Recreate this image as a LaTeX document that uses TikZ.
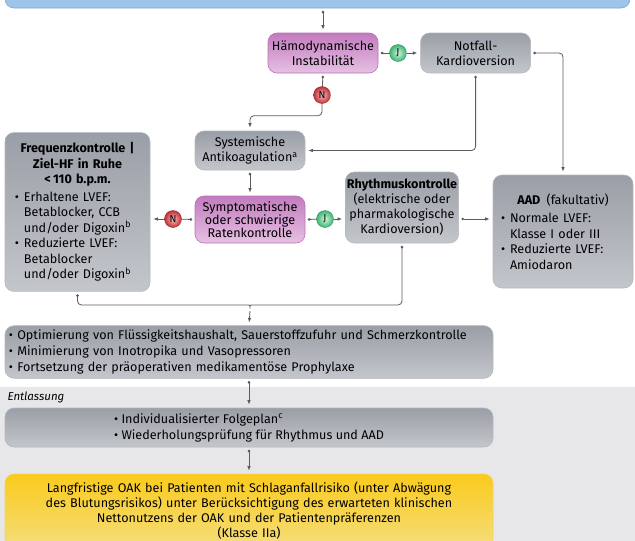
\documentclass[tikz,border=0pt]{standalone}
\usepackage{fontspec}
\setmainfont{Fira Sans}
\usetikzlibrary{positioning,arrows.meta}

\definecolor{graytop}{HTML}{9A9EA6}
\definecolor{graybot}{HTML}{C3C6CB}
\definecolor{grayline}{HTML}{B4B7BC}
\definecolor{purptop}{HTML}{C27BBE}
\definecolor{purpbot}{HTML}{E6C0E3}
\definecolor{purpline}{HTML}{B872B4}
\definecolor{bluetop}{HTML}{A9CBEC}
\definecolor{bluebot}{HTML}{9DC3E9}
\definecolor{blueline}{HTML}{7EA8DA}
\definecolor{yeltop}{HTML}{FACA1C}
\definecolor{yelbot}{HTML}{F5DE7C}
\definecolor{yelline}{HTML}{F3D45A}
\definecolor{bandgray}{HTML}{E7E7E9}
\definecolor{linkgray}{HTML}{5A5B5E}
\definecolor{jin}{HTML}{D2F4DF}
\definecolor{jout}{HTML}{3DB573}
\definecolor{nin}{HTML}{F6C0C0}
\definecolor{nout}{HTML}{C02F36}

\newcommand{\bitem}[1]{\par\hangindent=9pt\hangafter=1\noindent\makebox[9pt][l]{\textbullet}#1\par}

\begin{document}
\begin{tikzpicture}[x=1pt,y=-1pt]
  \tikzset{
    box/.style={rectangle,rounded corners=9pt,line width=0.6pt,inner sep=1.5pt,
      align=center,font=\fontsize{12.6}{15}\selectfont},
    graybox/.style={box,top color=graytop,bottom color=graybot,draw=grayline},
    purplebox/.style={box,top color=purptop,bottom color=purpbot,draw=purpline},
    yesnode/.style={circle,inner sep=0pt,minimum size=17pt,shading=radial,
      inner color=jin,outer color=jout,draw=jout!85!black,line width=0.4pt,
      font=\fontsize{10}{10}\selectfont},
    nonode/.style={yesnode,inner color=nin,outer color=nout,draw=nout!85!black},
    link/.style={draw=linkgray,line width=0.8pt,rounded corners=4pt,
      shorten <=2.5pt,shorten >=3pt,
      arrows={Circle[length=2.6pt]-Latex[length=4.5pt,width=3.6pt]}},
    linkdot/.style={link,arrows={Circle[length=2.6pt]-},shorten >=0pt},
    linkarrow/.style={link,arrows={-Latex[length=4.5pt,width=3.6pt]},shorten <=0pt},
  }
  \useasboundingbox (0,0) rectangle (635,541);
  \fill[bandgray] (0,387) rectangle (635,545);

  % top of the chart
  \node[box,top color=bluetop,bottom color=bluebot,draw=blueline,
    minimum width=625pt,minimum height=46pt] (blue) at (317.5,-15) {};
  \node[purplebox,minimum width=110pt,minimum height=40pt] (ham) at (323,53)
    {Hämodynamische\\Instabilität};
  \node[graybox,minimum width=110pt,minimum height=40pt] (notfall) [right=42pt of ham]
    {Notfall-\\Kardioversion};
  \node[yesnode] (j1) at (398,53) {J};
  \node[nonode] (n1) at (322,95) {N};

  % middle row
  \node[graybox,minimum width=110pt,minimum height=39pt] (sys) at (250,150.5)
    {Systemische\\Antikoagulation\textsuperscript{a}};
  \node[purplebox,minimum width=110pt,minimum height=47pt,
    font=\fontsize{12.6}{13}\selectfont] (sym) at (250,219.5)
    {Symptomatische\\oder schwierige\\Ratenkontrolle};
  \node[nonode] (n2) at (173,219) {N};
  \node[yesnode] (j2) at (325,219) {J};
  \node[graybox,minimum width=110pt,minimum height=71pt] (rhy) at (402,207.5)
    {\textbf{Rhythmuskontrolle}\\(elektrische oder\\pharmakologische\\Kardioversion)};
  \node[graybox,text width=125pt,inner sep=10pt,minimum height=152pt,
    font=\fontsize{12.6}{15.5}\selectfont] (freq) at (77.5,212)
    {{\centering\bfseries Frequenzkontrolle |\\Ziel-HF in Ruhe\\<\,110 b.p.m.\par}
     \vspace{2pt}\raggedright
     \bitem{Erhaltene LVEF:\newline Betablocker, CCB\newline und/oder Digoxin\textsuperscript{b}}
     \bitem{Reduzierte LVEF:\newline Betablocker\newline und/oder Digoxin\textsuperscript{b}}};
  \node[graybox,text width=124pt,inner sep=8pt,minimum height=113pt,
    font=\fontsize{12.6}{15.5}\selectfont] (aad) at (563,231.5)
    {{\centering\textbf{AAD}\enspace(fakultativ)\par}
     \vspace{3pt}\raggedright
     \bitem{Normale LVEF:\newline Klasse I oder III}
     \bitem{Reduzierte LVEF:\newline Amiodaron}};

  % lower part
  \node[graybox,text width=480pt,inner sep=4pt,minimum height=52pt,align=left,
    font=\fontsize{12.6}{16}\selectfont] (opt) at (249,352)
    {\textbullet\ Optimierung von Flüssigkeitshaushalt, Sauerstoffzufuhr und Schmerzkontrolle\\
     \textbullet\ Minimierung von Inotropika und Vasopressoren\\
     \textbullet\ Fortsetzung der präoperativen medikamentöse Prophylaxe};
  \node[font=\fontsize{11.5}{11.5}\selectfont\itshape,anchor=west] (discharge) at (4,397) {Entlassung};
  \node[graybox,minimum width=488pt,minimum height=39pt,align=left,
    font=\fontsize{12.6}{16}\selectfont] (ind) at (249,427.5)
    {\textbullet\ Individualisierter Folgeplan\textsuperscript{c}\\
     \textbullet\ Wiederholungsprüfung für Rhythmus und AAD};
  \node[box,top color=yeltop,bottom color=yelbot,draw=yelline,text width=480pt,
    inner sep=4pt,minimum height=74pt,font=\fontsize{12.6}{15}\selectfont] (oak) at (249,511)
    {Langfristige OAK bei Patienten mit Schlaganfallrisiko (unter Abwägung\\
     des Blutungsrisikos) unter Berücksichtigung des erwarteten klinischen\\
     Nettonutzens der OAK und der Patientenpräferenzen\\(Klasse IIa)};

  % connectors
  \coordinate (joinL) at (244,305);
  \coordinate (joinR) at (256,305);
  \coordinate (joint) at (250,311);
  \draw[link] (ham.north |- blue.south) -- (ham.north);
  \draw[linkdot] (ham.east) -- (j1);
  \draw[linkarrow] (j1) -- (notfall);
  \draw[linkdot] (ham.south) -- (n1);
  \draw[linkarrow] (n1.south) -- ++(0,12) -| (sys.north);
  \draw[link] (notfall.south) |- (sys.east);
  \draw[link] (notfall.east) -| (aad.north);
  \draw[link] (sys.south) -- (sym.north);
  \draw[linkdot] (sym.west) -- (n2);
  \draw[linkarrow] (n2) -- (n2 -| freq.east);
  \draw[linkdot] (sym.east) -- (j2);
  \draw[linkarrow] (j2) -- (j2 -| rhy.west);
  \draw[link] (j2 -| rhy.east) -- (j2 -| aad.west);
  \draw[link,arrows={Circle[length=2.6pt]-Circle[length=2.6pt]},shorten >=2.5pt]
    (freq.south) |- (joinL) .. controls (250,305) .. (joint)
    .. controls (250,305) .. (joinR) -| (rhy.south);
  \draw[linkarrow] (joint) -- (opt.north);
  \draw[link] (opt.south) -- (ind.north);
  \draw[link] (ind.south) -- (oak.north);
\end{tikzpicture}
\end{document}
